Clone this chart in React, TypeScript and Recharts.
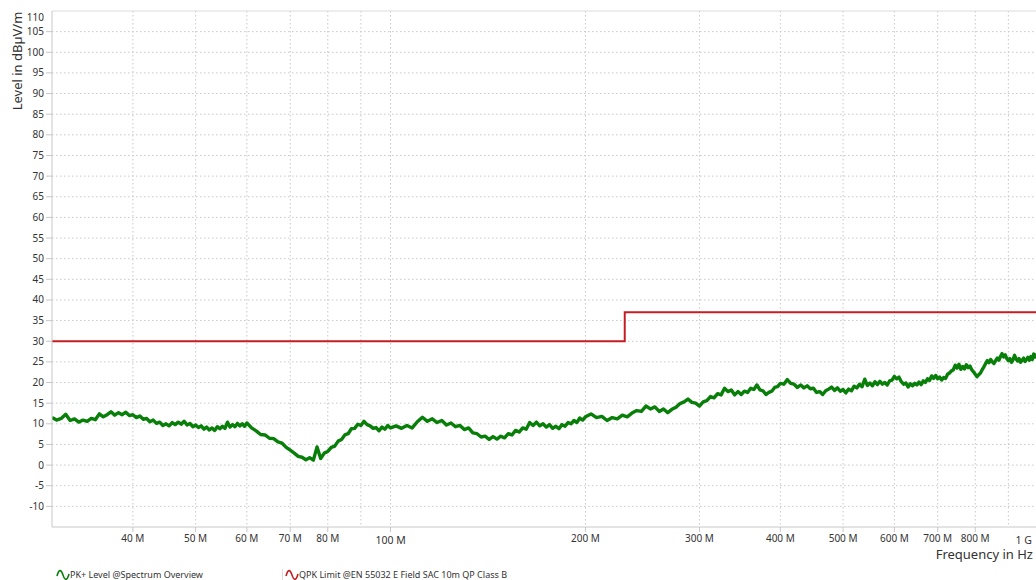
import React from 'react';
import {
  LineChart,
  Line,
  XAxis,
  YAxis,
  CartesianGrid,
  ReferenceLine,
} from 'recharts';

// Measured peak level (PK+) – frequency in MHz, level in dBµV/m
const FREQ_MHZ = [
  30, 30.5, 31, 31.5, 32, 32.5, 33, 33.5, 34, 34.5, 35, 35.5, 36, 36.5, 37, 37.5, 38, 38.5, 39, 39.5,
  40, 40.5, 41, 41.5, 42, 42.5, 43, 43.5, 44, 44.5, 45, 45.5, 46, 46.5, 47, 47.5, 48, 48.5, 49, 49.5,
  50, 50.5, 51, 51.5, 52, 52.5, 53, 53.5, 54, 54.5, 55, 55.5, 56, 56.5, 57, 57.5, 58, 58.5, 59, 59.5, 60,
  61, 62, 63, 64, 65, 66, 67, 68, 69, 70, 71, 72, 73, 74, 75, 76, 77, 78, 79, 80,
  81, 82, 83, 84, 85, 86, 87, 88, 89, 90, 91, 92, 93, 94, 95, 96, 97, 98, 99, 100,
  102, 104, 106, 108, 110, 112, 114, 116, 118, 120, 122, 124, 126, 128, 130, 132, 134, 136, 138, 140,
  142, 144, 146, 148, 150, 152, 154, 156, 158, 160, 162, 164, 166, 168, 170, 172, 174, 176, 178, 180,
  182, 184, 186, 188, 190, 192, 194, 196, 198, 200,
  204, 208, 212, 216, 220, 224, 228, 232, 236, 240, 244, 248, 252, 256, 260, 264, 268, 272, 276, 280,
  284, 288, 292, 296, 300, 304, 308, 312, 316, 320, 324, 328, 332, 336, 340, 344, 348, 352, 356, 360,
  364, 368, 372, 376, 380, 384, 388, 392, 396, 400,
  405, 410, 415, 420, 425, 430, 435, 440, 445, 450, 455, 460, 465, 470, 475, 480, 485, 490, 495, 500,
  505, 510, 515, 520, 525, 530, 535, 540, 545, 550, 555, 560, 565, 570, 575, 580, 585, 590, 595, 600,
  605, 610, 615, 620, 625, 630, 635, 640, 645, 650, 655, 660, 665, 670, 675, 680, 685, 690, 695, 700,
  705, 710, 715, 720, 725, 730, 735, 740, 745, 750, 755, 760, 765, 770, 775, 780, 785, 790, 795, 800,
  805, 810, 815, 820, 825, 830, 835, 840, 845, 850, 855, 860, 865, 870, 875, 880, 885, 890, 895, 900,
  905, 910, 915, 920, 925, 930, 935, 940, 945, 950, 955, 960, 965, 970, 975, 980, 985, 990, 995, 1000,
];
const LEVEL_DBUV = [
  11.5, 10.9, 11.3, 12.3, 10.8, 11.2, 10.4, 10.9, 10.6, 11.3, 11.0, 12.4, 11.7, 12.2, 12.9, 12.1, 12.7, 12.2, 12.8, 12.0,
  12.2, 11.5, 11.9, 11.1, 11.3, 10.5, 10.9, 10.1, 10.4, 9.6, 10.0, 9.5, 10.3, 9.8, 10.4, 9.9, 10.6, 9.7, 10.1, 9.3,
  9.7, 9.1, 9.5, 8.7, 9.2, 8.5, 9.0, 8.4, 9.3, 8.8, 9.4, 8.9, 10.4, 9.2, 9.8, 9.3, 10.1, 9.5, 10.0, 9.4, 10.2,
  9.0, 8.3, 7.4, 7.3, 6.5, 6.4, 5.6, 5.3, 4.3, 3.6, 2.9, 2.1, 1.9, 1.3, 1.8, 1.2, 4.4, 1.6, 2.9, 3.3,
  4.3, 4.6, 5.8, 6.2, 7.3, 7.6, 8.8, 8.9, 9.9, 9.6, 10.6, 9.8, 9.5, 8.9, 9.1, 8.3, 9.2, 8.7, 9.6, 9.0,
  9.5, 8.9, 9.6, 9.0, 10.5, 11.6, 10.6, 11.2, 10.3, 10.8, 9.7, 10.2, 9.3, 9.6, 8.6, 9.0, 7.8, 7.6, 6.8, 7.0,
  6.2, 6.9, 6.3, 7.0, 6.6, 7.6, 7.3, 8.4, 8.0, 9.0, 8.7, 10.3, 9.6, 10.4, 9.5, 10.0, 9.2, 9.8, 8.9, 9.4,
  8.8, 9.8, 9.4, 10.3, 10.0, 10.8, 10.3, 11.4, 10.9, 11.7,
  12.4, 11.5, 11.8, 10.8, 11.5, 11.2, 12.1, 11.7, 12.6, 13.2, 13.0, 14.3, 13.6, 14.1, 13.0, 13.6, 12.7, 13.5, 14.0, 14.9,
  15.3, 16.0, 15.2, 15.0, 14.3, 15.3, 15.6, 16.6, 16.3, 17.3, 17.0, 18.6, 17.8, 18.2, 17.0, 17.8, 17.1, 17.9, 17.6, 18.6,
  18.3, 19.4, 18.2, 18.0, 17.1, 17.6, 17.9, 18.8, 19.0, 19.8,
  19.6, 20.7, 19.8, 19.6, 18.8, 19.4, 18.7, 19.2, 18.5, 18.6, 17.6, 17.8, 17.1, 18.0, 18.4, 18.9, 18.1, 18.7, 17.9, 18.3,
  17.5, 18.4, 18.0, 19.1, 18.7, 19.6, 19.0, 20.8, 19.3, 19.9, 19.2, 20.2, 19.5, 20.3, 19.6, 20.0, 19.4, 20.4, 20.6, 21.5,
  20.9, 21.3, 20.2, 19.6, 19.9, 18.9, 19.7, 19.2, 19.8, 19.4, 20.1, 19.5, 20.4, 20.0, 20.9, 20.5, 21.6, 21.0, 21.7, 20.9,
  21.3, 20.6, 21.2, 21.0, 22.0, 22.3, 22.8, 23.1, 24.2, 23.5, 24.4, 23.2, 23.9, 23.3, 24.3, 23.6, 24.0, 23.1, 22.6, 22.0,
  21.4, 21.9, 22.3, 23.1, 23.8, 24.6, 25.3, 24.8, 25.6, 25.0, 24.6, 25.3, 25.9, 25.4, 26.3, 27.0, 26.2, 26.7, 25.8, 25.3,
  25.8, 24.9, 25.5, 26.6, 25.7, 25.2, 25.8, 24.9, 25.4, 25.9, 25.1, 25.6, 26.1, 25.4, 26.3, 25.6, 26.9, 26.2, 26.7, 26.0,
];

// QPK limit (EN 55032, class B, 10 m)
const LIMIT_FREQ = [30, 230, 1000];
const LIMIT_LEVEL = [30, 37, 37];

const X_TICKS = [40, 50, 60, 70, 80, 100, 200, 300, 400, 500, 600, 700, 800, 1000];
const X_TICK_LABELS = ['40 M', '50 M', '60 M', '70 M', '80 M', '100 M', '200 M', '300 M', '400 M', '500 M', '600 M', '700 M', '800 M', '1 G'];
const X_GRID = [40, 50, 60, 70, 80, 90, 100, 200, 300, 400, 500, 600, 700, 800, 900, 1000];
const Y_TICKS = [-10, -5, 0, 5, 10, 15, 20, 25, 30, 35, 40, 45, 50, 55, 60, 65, 70, 75, 80, 85, 90, 95, 100, 105, 110];
const Y_GRID = [-10, -5, 0, 5, 10, 15, 20, 25, 30, 35, 40, 45, 50, 55, 60, 65, 70, 75, 80, 85, 90, 95, 100, 105];

const measured = FREQ_MHZ.map((f, i) => ({ f, level: LEVEL_DBUV[i] }));
const limit = LIMIT_FREQ.map((f, i) => ({ f, limit: LIMIT_LEVEL[i] }));

const FONT = '"Noto Sans", "Open Sans", sans-serif';
const GREEN = '#087f08';
const RED = '#c41e24';
const AXIS = '#c8c8c8';
const TEXT = '#333';

const XTick = (props: any) => {
  const { x, y, payload } = props;
  const idx = X_TICKS.indexOf(payload.value);
  const label = idx >= 0 ? X_TICK_LABELS[idx] : '';
  const decade = payload.value === 100 || payload.value === 1000;
  const last = payload.value === 1000;
  return (
    <g>
      <line x1={x} x2={x} y1={y - 7} y2={y - 2} stroke={AXIS} />
      <text
        x={last ? x - 6 : x}
        y={y + (decade ? 10 : 8)}
        textAnchor={last ? 'end' : 'middle'}
        fontSize={decade ? 10.5 : 10}
        fontFamily={FONT}
        fill={TEXT}
      >
        {label}
      </text>
    </g>
  );
};

const YTick = (props: any) => {
  const { x, y, payload } = props;
  const top = payload.value === 110;
  return (
    <g>
      {!top && <line x1={x + 2} x2={x + 8} y1={y} y2={y} stroke={AXIS} />}
      <text x={x} y={y + (top ? 10 : 3.5)} textAnchor="end" fontSize={10} fontFamily={FONT} fill={TEXT}>
        {payload.value}
      </text>
    </g>
  );
};

const Wave = ({ color }: { color: string }) => (
  <svg width={14} height={12} style={{ display: 'block' }}>
    <path d="M1,7 C3,0 5,0 7,6 C9,12 11,12 13,5" fill="none" stroke={color} strokeWidth={1.6} />
  </svg>
);

export default function App() {
  return (
    <div
      style={{
        position: 'absolute',
        left: 0,
        top: 0,
        width: 1036,
        height: 580,
        overflow: 'hidden',
        background: '#fff',
      }}
    >
      <LineChart width={1040} height={580} margin={{ top: 11, right: 2, bottom: 0, left: 0 }} data={measured}>
        <CartesianGrid
          stroke={AXIS}
          strokeDasharray="1.5 2.5"
          horizontalValues={Y_GRID}
          verticalValues={X_GRID}
        />
        <ReferenceLine y={110} stroke="#dcdcdc" strokeWidth={1} ifOverflow="extendDomain" />
        <XAxis
          dataKey="f"
          type="number"
          scale="log"
          domain={[30, 1000]}
          allowDataOverflow
          ticks={X_TICKS}
          tickSize={5}
          tickMargin={2}
          tickLine={false}
          tick={<XTick />}
          axisLine={{ stroke: AXIS }}
          height={53}
          interval={0}
          label={{
            content: () => (
              <text x={1033} y={559} textAnchor="end" fontSize={13} fontFamily={FONT} fill={TEXT}>
                Frequency in Hz
              </text>
            ),
          }}
        />
        <YAxis
          type="number"
          domain={[-15, 110]}
          allowDataOverflow
          ticks={Y_TICKS}
          interval={0}
          width={52}
          tickSize={6}
          tickMargin={2}
          tickLine={false}
          tick={<YTick />}
          axisLine={{ stroke: AXIS }}
          label={{
            content: () => (
              <text
                transform="translate(22,61) rotate(-90)"
                textAnchor="middle"
                fontSize={13}
                fontFamily={FONT}
                fill={TEXT}
              >
                Level in dBµV/m
              </text>
            ),
          }}
        />
        <Line
          data={limit}
          dataKey="limit"
          type="stepAfter"
          stroke={RED}
          strokeWidth={2}
          dot={false}
          isAnimationActive={false}
        />
        <Line
          dataKey="level"
          type="linear"
          stroke={GREEN}
          strokeWidth={3.4}
          strokeLinejoin="round"
          dot={false}
          isAnimationActive={false}
        />
      </LineChart>
      <div
        style={{
          position: 'absolute',
          left: 56,
          top: 568,
          display: 'flex',
          alignItems: 'center',
          fontFamily: FONT,
          fontSize: 9,
          color: TEXT,
          whiteSpace: 'nowrap',
        }}
      >
        <Wave color={GREEN} />
        <span style={{ width: 212 }}>PK+ Level @Spectrum Overview</span>
        <span style={{ width: 1, height: 12, background: '#ddd', marginRight: 2 }} />
        <Wave color={RED} />
        <span>QPK Limit @EN 55032 E Field SAC 10m QP Class B</span>
      </div>
    </div>
  );
}
